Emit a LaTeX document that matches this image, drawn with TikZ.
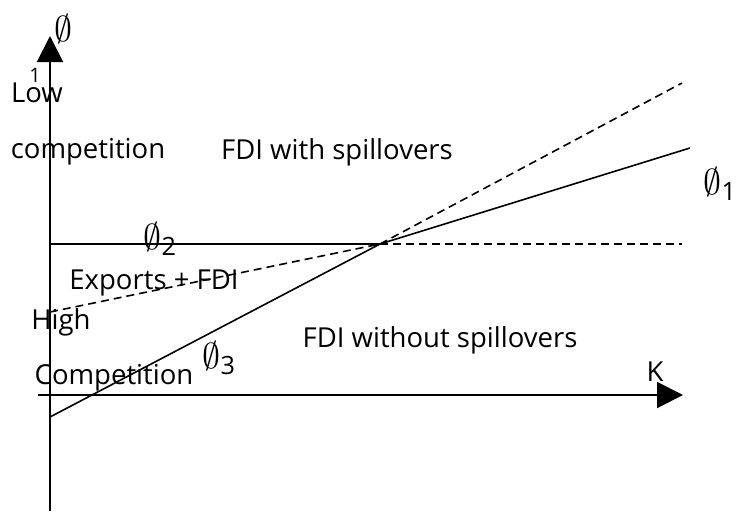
\documentclass[tikz,border=0pt]{standalone}
\usepackage{fix-cm}
\usepackage{fontspec}
\setmainfont{Open Sans}
\usetikzlibrary{arrows.meta}
\tikzset{
  axis/.style={line width=2pt,-{Triangle[length=26pt,width=26pt]}},
  curve/.style={line width=1.6pt},
  dcurve/.style={line width=1.6pt,dash pattern=on 8pt off 5pt},
  lbl/.style={inner sep=0pt,font=\fontsize{27.5}{32}\selectfont},
  phi/.style={inner sep=0pt,font=\fontsize{36}{42}\selectfont},
}
\newcommand{\phisym}[1]{$\emptyset_{\mathrm{#1}}$}
\begin{document}
\begin{tikzpicture}[x=1pt,y=-1pt]
\useasboundingbox (0,0) rectangle (741,512);
% coordinates
\coordinate (ybot) at (50,511);
\coordinate (ytop) at (50,36);
\coordinate (xl) at (38,395);
\coordinate (xr) at (683,395);
\coordinate (P) at (380,244);
\coordinate (h0) at (50,244);
\coordinate (hE) at (682,244);
\coordinate (e0) at (50,312);
\coordinate (s0) at (50,417);
\coordinate (sE) at (682,83);
\coordinate (f1) at (690,148);
% axes
\draw[axis] (ybot) -- (ytop);
\draw[axis] (xl) -- (xr);
% lines
\draw[curve] (h0) -- (P);
\draw[dcurve] (P) -- (hE);
\draw[dcurve] (e0) -- (P);
\draw[curve] (s0) -- (P);
\draw[dcurve] (P) -- (sE);
\draw[curve] (P) -- (f1);
% labels
\node[phi] (ph) at (63,29) {$\emptyset$};
\node[inner sep=0pt,font=\fontsize{20}{22}\selectfont] (one) at (35,75) {1};
\node[lbl] (low) at (37,93) {Low};
\node[lbl] (comp1) at (88,152) {competition};
\node[lbl] (fdiw) at (337,152) {FDI with spillovers};
\node[phi] (ph1) at (720,184) {\phisym{1}};
\node[phi] (ph2) at (160,239) {\phisym{2}};
\node[lbl] (exp) at (154,283) {Exports + FDI};
\node[lbl] (high) at (61,322) {High};
\node[phi] (ph3) at (219,358) {\phisym{3}};
\node[lbl] (fdiwo) at (440,340) {FDI without spillovers};
\node[lbl] (comp2) at (114,378) {Competition};
\node[lbl] (k) at (655,372) {K};
\end{tikzpicture}
\end{document}
